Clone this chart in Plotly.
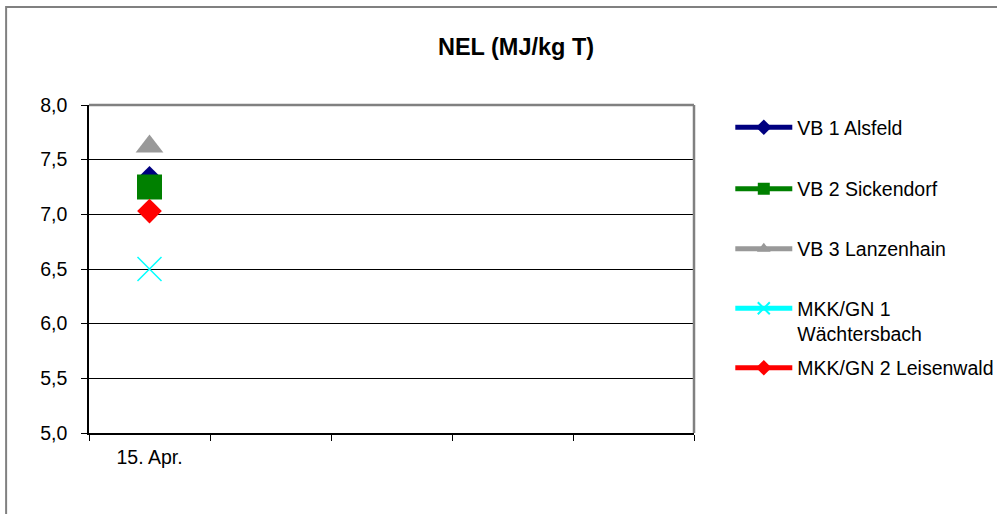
import plotly.graph_objects as go

# Sampling dates on the category axis (only the first one has been sampled so far)
slots = ["15. Apr.", " ", "  ", "   ", "    "]
dates = ["15. Apr."]

# NEL values in MJ/kg dry matter per site
series_names = [
    "VB 1 Alsfeld",
    "VB 2 Sickendorf",
    "VB 3 Lanzenhain",
    "MKK/GN 1<br>Wächtersbach",
    "MKK/GN 2 Leisenwald",
]
vb1_alsfeld = [7.33]
vb2_sickendorf = [7.25]
vb3_lanzenhain = [7.62]
mkk_gn1_waechtersbach = [6.50]
mkk_gn2_leisenwald = [7.03]

y_ticks = [5.0, 5.5, 6.0, 6.5, 7.0, 7.5, 8.0]

values = [vb1_alsfeld, vb2_sickendorf, vb3_lanzenhain,
          mkk_gn1_waechtersbach, mkk_gn2_leisenwald]
colors = ["#000080", "#008000", "#999999", "#00FFFF", "#FF0000"]
symbols = ["diamond", "square", "triangle-up", "x-thin", "diamond"]
sizes = [19, 25, 24, 24, 19]
legend_ids = ["legend", "legend2", "legend3", "legend4", "legend5"]
legend_y = [0.931, 0.744, 0.561, 0.341, 0.198]

FONT = "Liberation Sans, Arial, sans-serif"

fig = go.Figure()
for name, vals, col, sym, sz, lg in zip(series_names, values, colors,
                                        symbols, sizes, legend_ids):
    marker = dict(symbol=sym, size=sz, color=col)
    if sym == "x-thin":
        marker["line"] = dict(color=col, width=1.5)
    else:
        marker["line"] = dict(width=0)
    fig.add_trace(go.Scatter(
        x=dates, y=vals, name=name, mode="lines+markers",
        line=dict(color=col, width=5),
        marker=marker, legend=lg,
    ))

legend_common = dict(
    x=1.060, xanchor="left", yanchor="middle",
    bgcolor="rgba(0,0,0,0)", borderwidth=0,
    font=dict(family=FONT, size=19.5, color="black"),
    itemsizing="constant", itemwidth=57, valign="top",
)
layout_legends = {}
for lg, ly in zip(legend_ids, legend_y):
    layout_legends[lg] = dict(legend_common, y=ly)

fig.update_layout(
    width=997, height=514,
    margin=dict(l=89, r=303, t=105, b=81, autoexpand=False),
    paper_bgcolor="white", plot_bgcolor="white",
    separators=",.",
    showlegend=True,
    title=dict(
        text="<b>NEL (MJ/kg T)</b>",
        x=0.5176, xref="container", xanchor="center",
        y=1 - 47 / 514, yref="container", yanchor="middle",
        font=dict(family=FONT, size=23.5, color="black"),
    ),
    font=dict(family=FONT, color="black"),
    **layout_legends,
)

fig.update_xaxes(
    type="category", categoryorder="array", categoryarray=slots,
    range=[-0.5, len(slots) - 0.5],
    tickson="boundaries", ticks="outside", ticklen=6, tickcolor="black",
    showline=True, linecolor="black", linewidth=1.5,
    showgrid=False, zeroline=False,
    tickfont=dict(family=FONT, size=19.5, color="black"),
    ticklabelstandoff=6,
)
fig.update_yaxes(
    range=[5.0, 8.0], tickvals=y_ticks, tickformat=".1f",
    ticks="outside", ticklen=6, tickcolor="black",
    showline=True, linecolor="black", linewidth=1.5,
    showgrid=True, gridcolor="black", gridwidth=1,
    zeroline=False,
    tickfont=dict(family=FONT, size=19.5, color="black"),
    ticklabelstandoff=10,
)

# Grey upper and right edge of the plot area
fig.add_shape(type="line", xref="paper", yref="paper", x0=0, x1=1, y0=1, y1=1,
              line=dict(color="#808080", width=2.5), layer="above")
fig.add_shape(type="line", xref="paper", yref="paper", x0=1, x1=1, y0=0, y1=1,
              line=dict(color="#808080", width=2.5), layer="above")
# Outer chart frame
fig.add_shape(type="rect", xref="paper", yref="paper",
              x0=-0.137, x1=1.8, y0=-0.6, y1=1.299,
              line=dict(color="#808080", width=2), layer="below")

fig.write_html("out.html")
